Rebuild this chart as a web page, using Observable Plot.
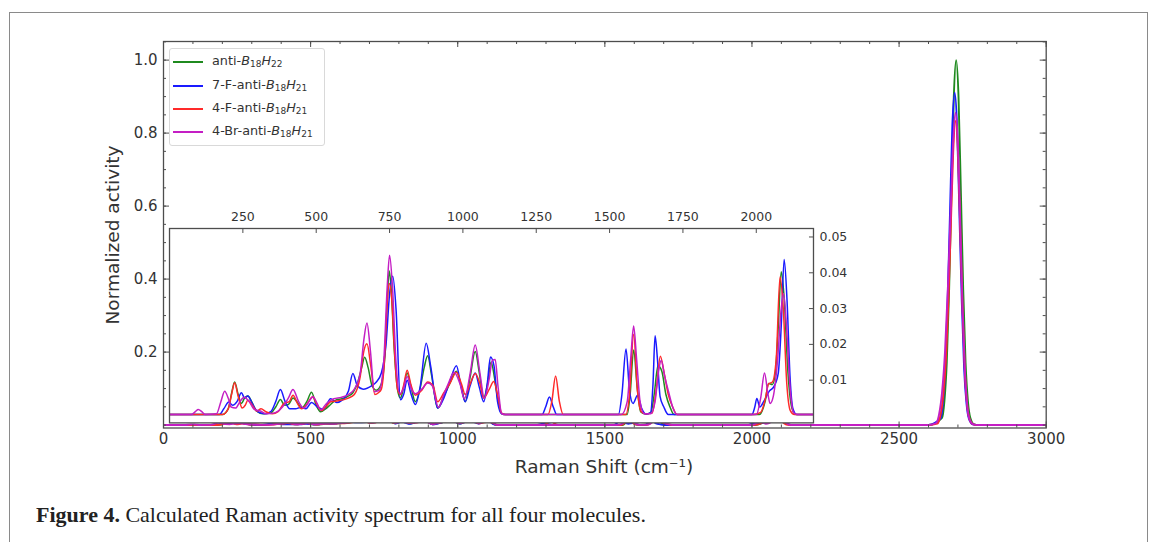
<!DOCTYPE html>
<html><head><meta charset="utf-8">
<script src="https://cdn.jsdelivr.net/npm/d3@7"></script>
<script src="https://cdn.jsdelivr.net/npm/@observablehq/plot@0.6"></script>
<style>
body{margin:0;background:#fff;}
#fig{position:relative;width:1153px;height:542px;overflow:hidden;font-family:"DejaVu Sans",sans-serif;color:#333;}
#frame{position:absolute;left:9px;top:12px;width:1139px;height:560px;border:1.5px solid #8a8a8a;box-sizing:border-box;}
#main,#inset{position:absolute;}
#main{left:0;top:0;}
#inset{left:167.3px;top:198.3px;}
#legend{position:absolute;left:169px;top:47.7px;width:156px;height:98px;border:1px solid #d9d9d9;border-radius:3px;background:rgba(255,255,255,0.85);box-sizing:border-box;}
.row{position:absolute;left:0;height:20px;width:100%;}
.row .ln{position:absolute;left:3px;top:9px;width:30px;height:2.5px;}
.row .tx{position:absolute;left:42px;top:1px;font-size:12.8px;line-height:16px;white-space:nowrap;color:#333;}
.row sub{font-size:9px;vertical-align:-2px;line-height:0;}
#ylab{position:absolute;left:112px;top:235px;transform:translate(-50%,-50%) rotate(-90deg);font-size:18.5px;white-space:nowrap;}
#xlab{position:absolute;left:604px;top:466px;transform:translate(-50%,-50%);font-size:18.5px;white-space:nowrap;}
#cap{position:absolute;left:36px;top:515px;transform:translate(0,-50%);font-family:"Liberation Serif",serif;font-size:22px;color:#222;white-space:nowrap;}
</style></head>
<body>
<div id="fig">
  <div id="frame"></div>
  <div id="main"></div>
  <div id="inset"></div>
  <div id="legend"></div>
  <div id="ylab">Normalized activity</div>
  <div id="xlab">Raman Shift (cm⁻¹)</div>
  <div id="cap"><b>Figure 4.</b> Calculated Raman activity spectrum for all four molecules.</div>
</div>
<script>
// ---- series names / colors ----
const seriesPrefix = ["anti-", "7-F-anti-", "4-F-anti-", "4-Br-anti-"];
const seriesHSub = ["22", "21", "21", "21"];
const seriesColors = ["#1f8a1f", "#1a1aff", "#ff2a2a", "#c41ec4"];

// ---- data: Raman shift (cm^-1) and normalized activity ----
const greenX = [0,180,200,212,222,234,245,256,267,280,295,320,345,362,378,392,405,421,436,450,468,484,500,515,532,549,568,588,608,625,642,655,665,677,690,705,722,735,742,749,756,765,778,787,798,810,822,838,855,868,880,893,914,935,955,978,995,1008,1025,1042,1056,1071,1085,1096,1108,1120,1132,1145,1560,1570,1582,1594,1606,1620,1640,1652,1665,1678,1692,1706,1720,2010,2030,2042,2055,2065,2075,2085,2095,2108,2122,2135,2600,2646,2654,2662,2670,2678,2686,2694,2702,2710,2718,2726,2734,2742,2755,2770,3000];
const greenY = [0.0004,0.0004,0.002,0.0065,0.0095,0.006,0.0035,0.005,0.0056,0.004,0.0015,0.0006,0.0008,0.0025,0.0046,0.003,0.0032,0.005,0.0038,0.0022,0.004,0.0066,0.003,0.0012,0.002,0.0032,0.0045,0.0048,0.0055,0.0065,0.0095,0.0135,0.0164,0.0135,0.0085,0.0072,0.009,0.018,0.032,0.0405,0.035,0.02,0.007,0.005,0.008,0.012,0.0085,0.004,0.008,0.0135,0.0168,0.0115,0.0022,0.0055,0.009,0.0125,0.008,0.004,0.011,0.018,0.012,0.005,0.0095,0.0151,0.0105,0.004,0.0007,0.0004,0.0004,0.006,0.0184,0.008,0.0012,0.0006,0.0008,0.006,0.014,0.0125,0.006,0.0025,0.0004,0.0004,0.004,0.0091,0.0088,0.012,0.025,0.0403,0.033,0.012,0.002,0.0004,0.0004,0.02,0.065,0.17,0.37,0.64,0.9,1.0,0.9,0.64,0.37,0.17,0.065,0.02,0.002,0.0004,0.0004];

const blueX = [0,170,185,202,215,230,245,256,267,282,300,325,345,362,378,394,410,430,446,465,484,505,525,549,570,590,610,625,640,660,690,705,722,738,750,761,772,787,798,810,822,838,855,875,890,914,935,955,978,993,1008,1025,1042,1056,1071,1083,1094,1106,1118,1132,1145,1270,1282,1295,1308,1320,1530,1542,1556,1568,1580,1595,1610,1625,1640,1648,1655,1663,1672,1685,1700,1985,1995,2002,2012,2025,2045,2060,2075,2085,2095,2105,2115,2125,2138,2600,2641,2649,2657,2665,2673,2681,2689,2697,2705,2713,2721,2729,2737,2750,2770,3000];
const blueY = [0.0004,0.0004,0.002,0.0039,0.003,0.004,0.0065,0.005,0.0056,0.0035,0.0012,0.0006,0.0012,0.004,0.0074,0.004,0.002,0.002,0.0024,0.002,0.0038,0.0025,0.0018,0.0048,0.0038,0.0045,0.007,0.0119,0.0085,0.0075,0.0085,0.0095,0.012,0.02,0.034,0.039,0.03,0.0045,0.006,0.010,0.0065,0.0032,0.0085,0.0203,0.014,0.0022,0.005,0.0095,0.014,0.0085,0.004,0.0085,0.012,0.008,0.004,0.009,0.0165,0.014,0.004,0.0006,0.0004,0.0004,0.0025,0.0053,0.0025,0.0004,0.0004,0.006,0.0187,0.007,0.0035,0.0057,0.002,0.0005,0.001,0.009,0.0224,0.016,0.0055,0.0025,0.0004,0.0004,0.0025,0.0049,0.0025,0.004,0.007,0.0082,0.012,0.025,0.0437,0.032,0.011,0.002,0.0004,0.0004,0.018,0.06,0.155,0.34,0.58,0.82,0.911,0.82,0.58,0.34,0.155,0.06,0.018,0.002,0.0004,0.0004];

const redX = [0,180,200,212,222,234,248,258,267,282,298,312,328,350,370,390,408,421,436,450,470,488,503,518,535,549,570,590,610,630,650,662,673,686,700,712,722,733,741,749,758,767,777,787,798,810,822,838,860,880,898,914,935,955,978,995,1008,1025,1042,1058,1071,1090,1105,1118,1132,1145,1290,1303,1316,1329,1342,1555,1568,1582,1595,1608,1622,1645,1660,1673,1686,1700,1715,1730,1990,2015,2030,2042,2055,2068,2081,2092,2104,2116,2130,2600,2630,2640,2650,2660,2668,2676,2684,2692,2700,2708,2716,2724,2732,2740,2752,2770,3000];
const redY = [0.0004,0.0004,0.002,0.0062,0.0093,0.0055,0.0022,0.003,0.0044,0.003,0.0014,0.002,0.0012,0.0006,0.0012,0.0035,0.004,0.0058,0.0035,0.002,0.0035,0.0054,0.0032,0.0015,0.0028,0.004,0.0042,0.0045,0.005,0.006,0.011,0.018,0.0202,0.014,0.006,0.0065,0.0075,0.016,0.03,0.037,0.032,0.018,0.0075,0.006,0.0085,0.0128,0.009,0.0058,0.0072,0.0095,0.0085,0.004,0.0065,0.009,0.0122,0.009,0.006,0.009,0.0119,0.009,0.005,0.0075,0.0096,0.006,0.0008,0.0004,0.0004,0.004,0.0112,0.004,0.0004,0.0004,0.006,0.0228,0.007,0.0012,0.0006,0.0008,0.008,0.0167,0.012,0.006,0.0025,0.0004,0.0004,0.001,0.0045,0.009,0.0095,0.016,0.0389,0.03,0.009,0.0015,0.0004,0.0004,0.004,0.025,0.08,0.19,0.35,0.55,0.75,0.833,0.75,0.53,0.31,0.14,0.05,0.015,0.002,0.0004,0.0004];

const magentaX = [0,75,88,98,110,122,160,175,188,200,210,225,240,255,270,290,310,330,355,385,405,421,440,458,475,489,503,515,535,560,585,610,630,650,662,673,685,698,715,730,742,750,760,772,785,798,810,822,838,860,880,895,917,935,950,970,990,1005,1025,1042,1058,1073,1090,1100,1110,1120,1132,1145,1540,1560,1572,1582,1592,1604,1618,1640,1655,1667,1676,1688,1701,1715,1730,2000,2015,2028,2040,2047,2058,2072,2085,2093,2103,2115,2127,2140,2600,2625,2636,2646,2656,2666,2676,2684,2692,2700,2708,2716,2724,2732,2740,2752,2770,3000];
const magentaY = [0.0004,0.0004,0.0012,0.0018,0.0012,0.0004,0.0006,0.004,0.0069,0.005,0.0025,0.0022,0.004,0.0052,0.0042,0.0018,0.0014,0.0006,0.0008,0.0025,0.005,0.0074,0.004,0.0022,0.004,0.0054,0.0035,0.0017,0.0035,0.0048,0.0052,0.006,0.0075,0.012,0.021,0.026,0.018,0.0068,0.0072,0.015,0.036,0.0449,0.036,0.015,0.0062,0.0078,0.011,0.008,0.0062,0.0075,0.0092,0.0085,0.0024,0.006,0.009,0.0122,0.009,0.0048,0.012,0.0198,0.012,0.005,0.0105,0.0155,0.0158,0.008,0.0007,0.0004,0.0004,0.004,0.016,0.0251,0.016,0.004,0.0006,0.0006,0.004,0.0125,0.0156,0.011,0.0068,0.0025,0.0004,0.0004,0.005,0.012,0.006,0.0035,0.0055,0.015,0.03,0.0342,0.025,0.008,0.001,0.0004,0.0004,0.005,0.03,0.09,0.2,0.38,0.6,0.78,0.856,0.77,0.55,0.32,0.145,0.05,0.015,0.002,0.0004,0.0004];

// ---- axis ticks ----
const mainXMajor = [0, 500, 1000, 1500, 2000, 2500, 3000];
const mainXMinor = d3.range(0, 3001, 100);
const mainYMajor = [0.2, 0.4, 0.6, 0.8, 1.0];
const mainYMinor = [0, 0.05, 0.1, 0.15, 0.2, 0.25, 0.3, 0.35, 0.4, 0.45, 0.5, 0.55, 0.6, 0.65, 0.7, 0.75, 0.8, 0.85, 0.9, 0.95, 1.0, 1.05];
const insetXTicks = [250, 500, 750, 1000, 1250, 1500, 1750, 2000];
const insetYTicks = [0.01, 0.02, 0.03, 0.04, 0.05];

// ---- build table ----
const seriesX = [greenX, blueX, redX, magentaX];
const seriesY = [greenY, blueY, redY, magentaY];
const rows = [];
seriesX.forEach((xs, s) => xs.forEach((x, i) => rows.push({s, x, y: seriesY[s][i]})));

const spine = "#4d4d4d";
function lineMarks(sw) {
  return [0, 1, 2, 3].map(s => Plot.line(rows.filter(d => d.s === s), {
    x: "x", y: "y", stroke: seriesColors[s], strokeWidth: sw, curve: "monotone-x", clip: true
  }));
}

// main plot geometry
const mL = 163, mR = 107.3, mT = 41, mB = 32.5, W = 1153, H = 460;
const innerW = W - mL - mR, innerH = H - mT - mB;
const main = Plot.plot({
  width: W, height: H,
  marginLeft: mL, marginRight: mR, marginTop: mT, marginBottom: mB,
  x: {domain: [0, 3000]},
  y: {domain: [-0.008, 1.051]},
  style: {fontFamily: "DejaVu Sans, sans-serif", fontSize: "15px", color: "#333", background: "transparent", overflow: "visible"},
  marks: [
    ...lineMarks(1.9),
    Plot.frame({stroke: spine, strokeWidth: 1.3}),
    Plot.tickX(mainXMinor, {x: d => d, insetTop: innerH - 3, stroke: spine}),
    Plot.tickX(mainXMajor, {x: d => d, insetTop: innerH - 6, stroke: spine}),
    Plot.tickX(mainXMinor, {x: d => d, insetBottom: innerH - 3, stroke: spine}),
    Plot.tickX(mainXMajor, {x: d => d, insetBottom: innerH - 6, stroke: spine}),
    Plot.tickY(mainYMinor, {y: d => d, insetRight: innerW - 3, stroke: spine}),
    Plot.tickY(mainYMajor, {y: d => d, insetRight: innerW - 6, stroke: spine}),
    Plot.tickY(mainYMinor, {y: d => d, insetLeft: innerW - 3, stroke: spine}),
    Plot.tickY(mainYMajor, {y: d => d, insetLeft: innerW - 6, stroke: spine}),
    Plot.axisX({ticks: mainXMajor, tickSize: 0, tickPadding: 5, tickFormat: d3.format("d"), label: null}),
    Plot.axisY({ticks: mainYMajor, tickSize: 0, tickPadding: 6, tickFormat: d3.format(".1f"), label: null})
  ]
});
document.getElementById("main").appendChild(main);

// inset geometry
const iL = 2, iR = 45, iT = 30, iB = 2, iW = 644, iH = 194.4;
const inset = Plot.plot({
  width: iW + iL + iR, height: iH + iT + iB,
  marginLeft: iL, marginRight: iR, marginTop: iT, marginBottom: iB,
  x: {domain: [0, 2195]},
  y: {domain: [-0.00193, 0.05237]},
  style: {fontFamily: "DejaVu Sans, sans-serif", fontSize: "12.5px", color: "#333", background: "transparent", overflow: "visible"},
  marks: [
    Plot.frame({fill: "white", stroke: null}),
    ...lineMarks(1.5),
    Plot.frame({stroke: spine, strokeWidth: 1.3}),
    Plot.tickX(insetXTicks, {x: d => d, insetBottom: iH - 5, stroke: spine}),
    Plot.tickY(insetYTicks, {y: d => d, insetLeft: iW - 4, stroke: spine}),
    Plot.axisX({anchor: "top", ticks: insetXTicks, tickSize: 0, tickPadding: 7, tickFormat: d3.format("d"), label: null}),
    Plot.axisY({anchor: "right", ticks: insetYTicks, tickSize: 0, tickPadding: 6, tickFormat: d3.format(".2f"), label: null})
  ]
});
document.getElementById("inset").appendChild(inset);

// legend
const legend = document.getElementById("legend");
const rowTops = [3.3, 27.3, 50.3, 73.3];
seriesPrefix.forEach((p, i) => {
  const r = document.createElement("div");
  r.className = "row";
  r.style.top = rowTops[i] + "px";
  r.innerHTML = `<div class="ln" style="background:${seriesColors[i]}"></div><div class="tx">${p}<i>B</i><sub>18</sub><i>H</i><sub>${seriesHSub[i]}</sub></div>`;
  legend.appendChild(r);
});
</script>
</body></html>
